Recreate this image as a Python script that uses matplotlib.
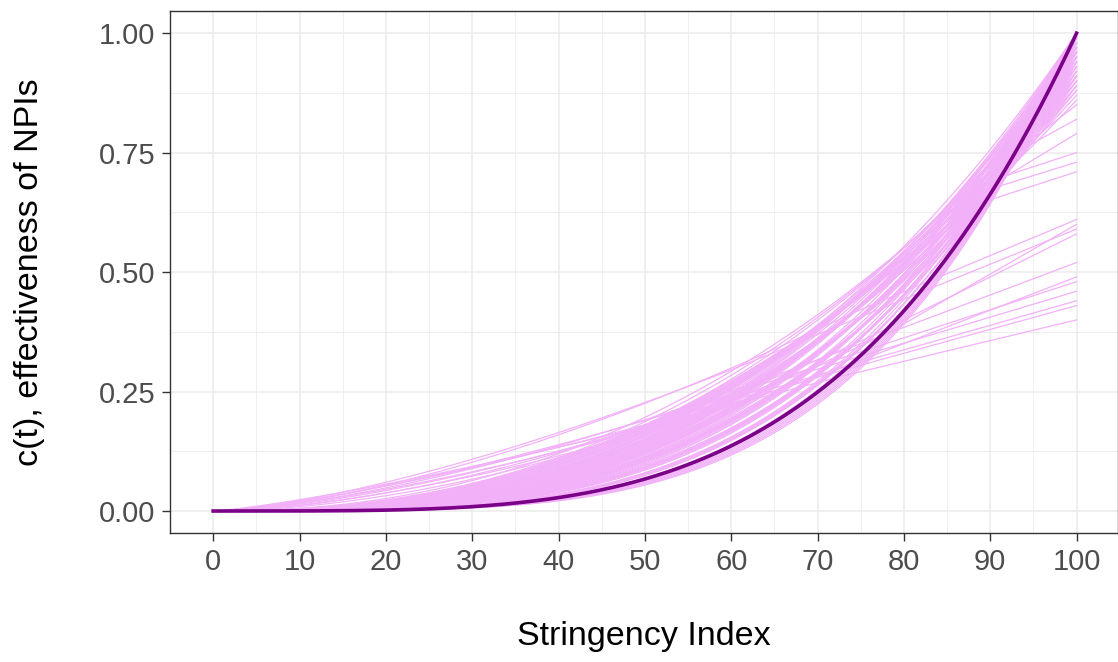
import numpy as np
import matplotlib
matplotlib.use("Agg")
import matplotlib.pyplot as plt
from matplotlib.ticker import MultipleLocator, FormatStrFormatter

plt.rcParams['font.family'] = ['Liberation Sans', 'DejaVu Sans']

# thick summary curve: c = (S/100)^k
main_exp = 3.9

# thin draws: curve s*(S/100)^b up to a knee, then straight to the end value at S=100
# low-ending draws (leave the band around S=70 and run straight)
low_scale = [0.42, 0.47, 0.46, 0.52, 0.50, 0.50, 0.54, 0.58, 0.62, 0.58, 0.66]
low_exp = [1.25, 1.45, 1.35, 1.55, 1.40, 1.60, 1.50, 1.70, 1.45, 1.80, 1.55]
low_knee = [72, 70, 74, 68, 71, 75, 73, 76, 70, 78, 74]
low_end = [0.40, 0.43, 0.44, 0.46, 0.48, 0.49, 0.52, 0.58, 0.59, 0.60, 0.61]

# mid-ending draws
mid_scale = [0.92, 0.95, 0.90, 0.97, 0.94, 1.00]
mid_exp = [2.30, 2.50, 2.20, 2.70, 2.40, 2.90]
mid_knee = [84, 86, 88, 85, 89, 87]
mid_end = [0.71, 0.73, 0.75, 0.79, 0.82, 0.85]

# high-ending draws (smooth all the way)
hi_end = [1.00] * 19 + [0.99] * 6 + [0.98] * 6 + [0.97] * 6 + [0.96] * 5 + \
         [0.95] * 5 + [0.94] * 5 + [0.93] * 4 + [0.92] * 4 + [0.91] * 4 + \
         [0.90] * 3 + [0.89] * 3 + [0.88] * 2 + [0.87, 0.86]
hi_exp = [2.65, 2.75, 2.85, 2.95, 3.05, 3.15, 3.25, 3.35, 3.45, 3.55, 3.65, 3.75, 3.85, 3.95, 4.00,
          4.05, 4.10, 4.15, 4.20,
          2.70, 2.90, 3.10, 3.30, 3.50, 3.70,
          2.65, 2.85, 3.05, 3.25, 3.45, 3.65,
          2.60, 2.80, 3.00, 3.20, 3.40, 3.60,
          2.60, 2.80, 3.00, 3.20, 3.40,
          2.55, 2.75, 2.95, 3.15, 3.35,
          2.50, 2.70, 2.90, 3.10, 3.30,
          2.50, 2.70, 2.90, 3.10,
          2.45, 2.65, 2.85, 3.05,
          2.40, 2.60, 2.80, 3.00,
          2.40, 2.60, 2.80,
          2.35, 2.55, 2.75,
          2.30, 2.50,
          2.30, 2.25]

x = np.linspace(0, 100, 401)


def draw_curve(scale, b, knee, end):
    y = scale * (x / 100.0) ** b
    yk = scale * (knee / 100.0) ** b
    after = x > knee
    if knee < 100:
        y[after] = yk + (end - yk) * (x[after] - knee) / (100.0 - knee)
    return y


fig = plt.figure(figsize=(11.18, 6.62), dpi=100)
ax = fig.add_axes([170 / 1118, 129 / 662, 948 / 1118, 522.3 / 662])

pink = '#F2B0F8'
for s, b in zip(hi_end, hi_exp):
    ax.plot(x, draw_curve(s, b, 100, s), color=pink, lw=0.9, zorder=2)
for s, b, k, e in zip(mid_scale, mid_exp, mid_knee, mid_end):
    ax.plot(x, draw_curve(s, b, k, e), color=pink, lw=0.9, zorder=2)
for s, b, k, e in zip(low_scale, low_exp, low_knee, low_end):
    ax.plot(x, draw_curve(s, b, k, e), color=pink, lw=0.9, zorder=2)

ax.plot(x, (x / 100.0) ** main_exp, color='#7A0087', lw=2.6, zorder=3)

ax.set_xlim(-5, 104.8)
ax.set_ylim(-0.046, 1.047)
ax.xaxis.set_major_locator(MultipleLocator(10))
ax.xaxis.set_minor_locator(MultipleLocator(5))
ax.yaxis.set_major_locator(MultipleLocator(0.25))
ax.yaxis.set_minor_locator(MultipleLocator(0.125))
ax.yaxis.set_major_formatter(FormatStrFormatter('%.2f'))

ax.grid(which='major', color='#EBEBEB', lw=1.1, zorder=0)
ax.grid(which='minor', color='#EBEBEB', lw=0.55, zorder=0)
ax.set_axisbelow(True)

for sp in ax.spines.values():
    sp.set_color('#333333')
    sp.set_linewidth(1.0)

ax.tick_params(which='major', length=5.5, width=1.0, color='#333333',
               labelsize=21, labelcolor='#4D4D4D', pad=5)
ax.tick_params(which='minor', length=0)

ax.set_xlabel('Stringency Index', fontsize=24.5, color='black')
ax.set_ylabel('c(t), effectiveness of NPIs', fontsize=24.5, color='black')
ax.xaxis.set_label_coords(0.5, -0.199)
ax.yaxis.set_label_coords(-0.148, 0.5)
ax.xaxis.label.set_va('center')
ax.yaxis.label.set_va('center')

fig.savefig('out.png', dpi=100)
